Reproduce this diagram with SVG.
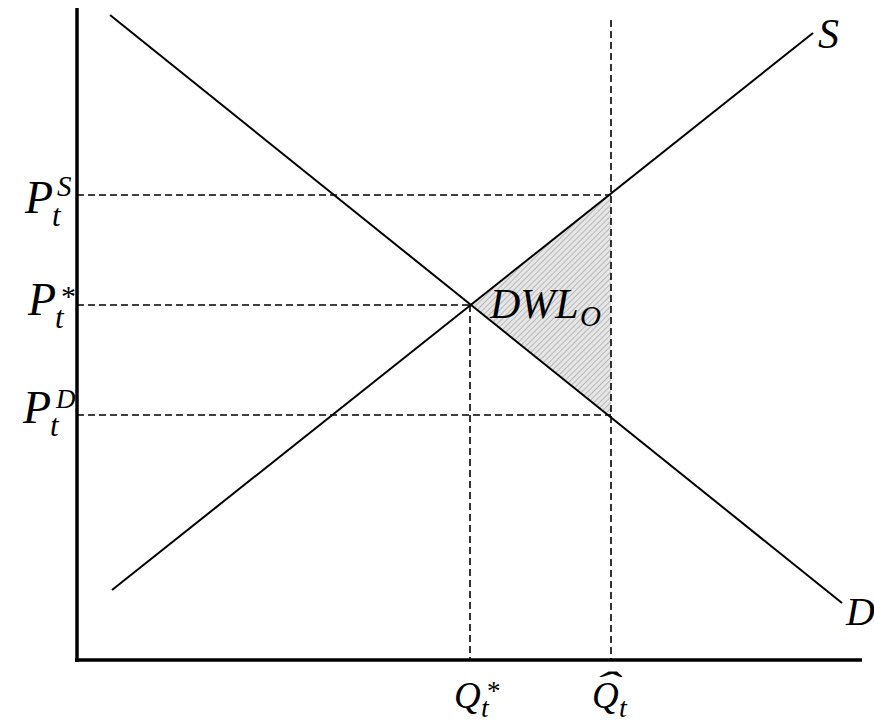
<svg xmlns="http://www.w3.org/2000/svg" width="874" height="726" viewBox="0 0 874 726">
<style>
.axis{stroke:#000;stroke-width:3.5;fill:none}
.curve{stroke:#000;stroke-width:2;fill:none}
.dash{stroke:#000;stroke-width:1.6;stroke-dasharray:7,4;fill:none}
.m{font-family:"Liberation Serif","Times New Roman",serif;font-style:italic;fill:#000}
</style>
<defs>
<pattern id="hatch" width="4" height="4" patternUnits="userSpaceOnUse" patternTransform="rotate(45)">
<rect width="4" height="4" fill="#e6e6e6"/>
<line x1="0" y1="0" x2="0" y2="4" stroke="#9a9a9a" stroke-width="1.2"/>
</pattern>
</defs>
<rect width="874" height="726" fill="#fff"/>
<g id="dwl-area">
<polygon points="470,305 611,193 611,416" fill="url(#hatch)"/>
</g>
<g id="connectors">
<line class="dash" x1="77" y1="195" x2="611" y2="195"/>
<line class="dash" x1="77" y1="305" x2="470" y2="305"/>
<line class="dash" x1="77" y1="415" x2="611" y2="415"/>
<line class="dash" x1="470" y1="305" x2="470" y2="660"/>
<line class="dash" x1="611" y1="20" x2="611" y2="660"/>
<line class="curve" x1="110" y1="15" x2="842" y2="603"/>
<line class="curve" x1="112" y1="590" x2="813" y2="33"/>
</g>
<g id="axes">
<line class="axis" x1="77" y1="8" x2="77" y2="662"/>
<line class="axis" x1="75" y1="660" x2="862" y2="660"/>
</g>
<g id="label-S"><text class="m" x="818" y="48" font-size="42">S</text></g>
<g id="label-D"><text class="m" x="846" y="625" font-size="40">D</text></g>
<g id="label-PS"><text class="m" font-size="46"><tspan x="25" y="213">P</tspan><tspan x="52" y="226" font-size="31">t</tspan><tspan x="57" y="196" font-size="29">S</tspan></text></g>
<g id="label-Pstar"><text class="m" font-size="46"><tspan x="28" y="315">P</tspan><tspan x="55" y="328" font-size="31">t</tspan><tspan x="61" y="306" font-size="30" font-style="normal">*</tspan></text></g>
<g id="label-PD"><text class="m" font-size="46"><tspan x="23" y="423">P</tspan><tspan x="50" y="436" font-size="31">t</tspan><tspan x="56" y="408" font-size="27">D</tspan></text></g>
<g id="label-DWL"><text class="m" font-size="42"><tspan x="490" y="318">DWL</tspan><tspan x="580" y="326" font-size="29">O</tspan></text></g>
<g id="label-Qstar"><text class="m" font-size="37"><tspan x="454" y="708">Q</tspan><tspan x="481" y="717" font-size="28">t</tspan><tspan x="487" y="700" font-size="27" font-style="normal">*</tspan></text></g>
<g id="label-Qhat"><text class="m" font-size="37"><tspan x="592" y="708">Q</tspan><tspan x="619" y="717" font-size="28">t</tspan></text><text class="m" font-size="36" font-style="normal" transform="translate(606,697) scale(2.2,1)" text-anchor="middle">ˆ</text></g>
</svg>
